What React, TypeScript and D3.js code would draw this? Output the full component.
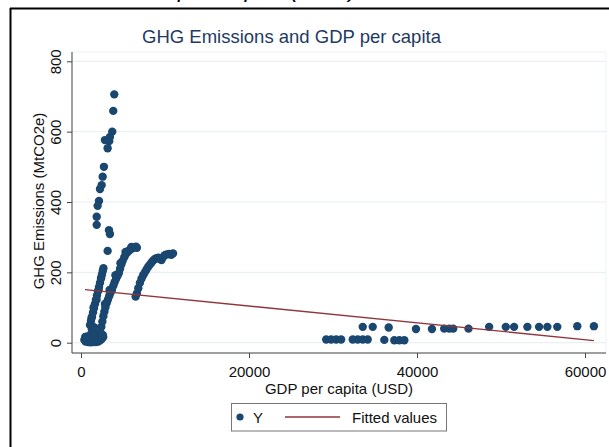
import React, { useEffect, useRef } from "react";
import * as d3 from "d3";

// GDP per capita (USD), GHG emissions (MtCO2e) pairs
const baseCluster: [number, number][] = [
  [400, 8], [550, 3], [700, 12], [850, 2], [1000, 6], [1150, 1], [1300, 4], [1450, 2],
  [1600, 5], [1750, 2], [1900, 4], [2050, 3], [2200, 6], [2350, 8], [2500, 12], [2650, 16],
  [500, 16], [750, 18], [1050, 14], [1350, 12], [1650, 14], [1950, 12], [2300, 18], [2600, 22],
  [1200, 24], [1450, 30], [1700, 26], [1300, 38], [1550, 44],
];
const armLeft: [number, number][] = [
  [1070, 50], [1190, 62], [1310, 74], [1430, 86], [1545, 98], [1665, 110], [1780, 122],
  [1900, 134], [2020, 146], [2140, 158], [2260, 170], [2375, 182], [2495, 194], [2595, 204],
  [2670, 212], [1250, 70], [1500, 100], [1850, 122], [2100, 150], [2400, 185],
];
const armRight: [number, number][] = [
  [2300, 30], [2420, 45], [2540, 60], [2660, 75], [2780, 88], [2900, 100], [3050, 112],
  [3200, 122], [3350, 132], [3500, 141], [3680, 150], [3850, 162], [4000, 172], [4180, 182],
  [4350, 190], [4510, 198], [4650, 210], [4800, 222], [4950, 232], [5150, 243], [5350, 252],
  [5550, 258], [5750, 263], [5950, 266], [6150, 269], [6350, 271], [6550, 273], [6650, 270],
  [2850, 110], [3400, 150], [4100, 192], [4700, 226], [5300, 258], [6000, 272],
];
const armLate: [number, number][] = [
  [6500, 131], [6650, 140], [6820, 155], [7010, 170], [7200, 182], [7400, 192], [7600, 200],
  [7800, 208], [8000, 216], [8200, 222], [8400, 228], [8600, 234], [8800, 238], [8990, 240],
  [9200, 242], [9400, 238], [9590, 235], [9800, 244], [9980, 249], [10200, 251], [10500, 252],
  [10750, 250], [10960, 254],
];
const armTall: [number, number][] = [
  [3960, 706], [3840, 659], [3720, 600], [2850, 576], [3360, 573], [3170, 553], [3440, 585],
  [2730, 500], [2580, 472], [2460, 448], [2260, 437], [2140, 403], [1980, 389], [1870, 358],
  [1870, 335], [3330, 320], [3440, 309], [3170, 261],
];
const highIncome: [number, number][] = [
  [29190, 9], [29780, 9], [30380, 9], [30970, 9], [32350, 9], [32940, 9], [33540, 9],
  [34130, 9], [36110, 8], [37300, 7], [37900, 7], [38490, 7],
  [33540, 45], [34730, 45], [36630, 43], [39880, 39], [41780, 39], [43240, 40], [43840, 40],
  [44310, 40], [46130, 40], [48590, 45], [50570, 45], [51560, 45], [53140, 45], [54530, 45],
  [55520, 45], [56700, 45], [59080, 47], [61060, 47],
];

const fitX = [475, 61060];
const fitY = [151, 6];

const xTicks = [0, 20000, 40000, 60000];
const yTicks = [0, 200, 400, 600, 800];

const title = "GHG Emissions and GDP per capita";
const xTitle = "GDP per capita (USD)";
const yTitle = "GHG Emissions (MtCO2e)";
const caption = "per capita (USD)";
const legendLabels = ["Y", "Fitted values"];

const FONT = "'Liberation Sans', Arial, sans-serif";
const NAVY = "#1a476f";
const MAROON = "#90353b";

export default function App() {
  const ref = useRef<SVGSVGElement>(null);

  useEffect(() => {
    const svg = d3.select(ref.current);
    svg.selectAll("*").remove();

    const W = 609, H = 447;
    const plot = { left: 72, right: 606, top: 52, bottom: 353 };

    const x = d3.scaleLinear().domain([0, 60000]).range([81, 585]);
    const y = d3.scaleLinear().domain([0, 800]).range([342.7, 61.3]);

    svg.append("rect").attr("width", W).attr("height", H).attr("fill", "#fff");

    // cut-off caption above frame (only descenders show in the reference)
    svg.append("text")
      .attr("x", 178).attr("y", -3)
      .attr("font-family", FONT).attr("font-style", "italic").attr("font-size", 24)
      .attr("fill", "#000").text(caption);

    // outer frame
    svg.append("line").attr("x1", 10).attr("x2", W).attr("y1", 8.5).attr("y2", 8.5)
      .attr("stroke", "#000").attr("stroke-width", 2);
    svg.append("line").attr("x1", 10.5).attr("x2", 10.5).attr("y1", 8).attr("y2", H)
      .attr("stroke", "#000").attr("stroke-width", 2);

    // plot region outline
    svg.append("rect")
      .attr("x", plot.left).attr("y", plot.top)
      .attr("width", plot.right - plot.left).attr("height", plot.bottom - plot.top)
      .attr("fill", "#fff").attr("stroke", "#eef3f4").attr("stroke-width", 1);

    // gridlines
    svg.append("g").selectAll("line").data(yTicks).join("line")
      .attr("x1", plot.left).attr("x2", plot.right)
      .attr("y1", (d) => y(d)).attr("y2", (d) => y(d))
      .attr("stroke", "#e4eef0").attr("stroke-width", 1);

    // title
    svg.append("text")
      .attr("x", 291.5).attr("y", 42.5).attr("text-anchor", "middle")
      .attr("font-family", FONT).attr("font-size", 18.5).attr("fill", "#1e3a63")
      .text(title);

    // y axis
    const gy = svg.append("g").attr("transform", `translate(${plot.left},0)`)
      .call(d3.axisLeft(y).tickValues(yTicks).tickSize(5).tickSizeOuter(0).tickFormat(d3.format("d")));
    gy.select(".domain").attr("d", `M0,${plot.top}V${plot.bottom}`).attr("stroke", "#444");
    gy.selectAll(".tick line").attr("stroke", "#444");
    gy.selectAll(".tick text")
      .attr("transform", "rotate(-90)").attr("x", 0).attr("y", -11).attr("dy", 0)
      .attr("text-anchor", "middle").attr("font-family", FONT).attr("font-size", 15).attr("fill", "#111");

    // x axis
    const gx = svg.append("g").attr("transform", `translate(0,${plot.bottom})`)
      .call(d3.axisBottom(x).tickValues(xTicks).tickSize(5).tickSizeOuter(0).tickPadding(8.3).tickFormat(d3.format("d")));
    gx.select(".domain").attr("d", `M${plot.left},0H${plot.right}`).attr("stroke", "#444");
    gx.selectAll(".tick line").attr("stroke", "#444");
    gx.selectAll(".tick text").attr("font-family", FONT).attr("font-size", 15).attr("fill", "#111");

    // axis titles
    svg.append("text")
      .attr("transform", `translate(44,201) rotate(-90)`).attr("text-anchor", "middle")
      .attr("font-family", FONT).attr("font-size", 15).attr("fill", "#111").text(yTitle);
    svg.append("text")
      .attr("x", 339).attr("y", 394).attr("text-anchor", "middle")
      .attr("font-family", FONT).attr("font-size", 15).attr("fill", "#111").text(xTitle);

    // scatter
    const all = [...baseCluster, ...armLeft, ...armRight, ...armLate, ...armTall, ...highIncome];
    svg.append("g").selectAll("circle").data(all).join("circle")
      .attr("cx", (d) => x(d[0])).attr("cy", (d) => y(d[1])).attr("r", 4.2)
      .attr("fill", NAVY);

    // fitted line
    const line = d3.line<number>().x((d) => x(fitX[d])).y((d) => y(fitY[d]));
    svg.append("path").attr("d", line([0, 1]) as string)
      .attr("fill", "none").attr("stroke", MAROON).attr("stroke-width", 1.3);

    // legend
    const lg = svg.append("g");
    lg.append("rect").attr("x", 231.5).attr("y", 403.5).attr("width", 215).attr("height", 27.5)
      .attr("fill", "#fff").attr("stroke", "#777").attr("stroke-width", 1);
    lg.append("circle").attr("cx", 240).attr("cy", 417).attr("r", 3.6).attr("fill", NAVY);
    lg.append("text").attr("x", 253).attr("y", 423).attr("font-family", FONT).attr("font-size", 15)
      .attr("fill", "#111").text(legendLabels[0]);
    lg.append("line").attr("x1", 285).attr("x2", 340).attr("y1", 417).attr("y2", 417)
      .attr("stroke", MAROON).attr("stroke-width", 1.3);
    lg.append("text").attr("x", 352).attr("y", 423).attr("font-family", FONT).attr("font-size", 15)
      .attr("fill", "#111").text(legendLabels[1]);
  }, []);

  return (
    <div style={{ position: "absolute", left: 0, top: 0 }}>
      <svg ref={ref} width={609} height={447} style={{ display: "block" }} />
    </div>
  );
}
